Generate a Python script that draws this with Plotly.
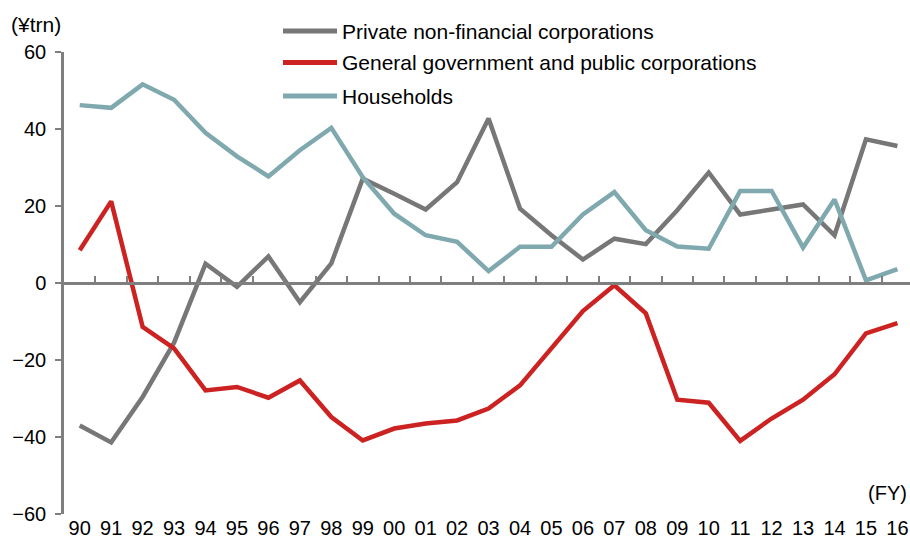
import plotly.graph_objects as go

years = ["90","91","92","93","94","95","96","97","98","99","00","01","02","03",
         "04","05","06","07","08","09","10","11","12","13","14","15","16"]

private_corp = [-37.0, -41.4, -29.6, -15.5, 5.0, -1.0, 6.9, -5.0, 5.1, 27.1, 23.2, 19.1, 26.2, 42.7,
                19.3, 12.4, 6.1, 11.5, 10.1, 18.9, 28.7, 17.8, 19.1, 20.4, 12.4, 37.3, 35.6]
government = [8.5, 21.2, -11.4, -17.0, -27.9, -27.0, -29.8, -25.3, -34.8, -40.9, -37.8, -36.5, -35.7, -32.6,
              -26.6, -16.8, -7.3, -0.6, -7.9, -30.3, -31.1, -41.0, -35.2, -30.3, -23.7, -13.1, -10.4]
households = [46.2, 45.5, 51.6, 47.6, 39.0, 32.9, 27.7, 34.5, 40.3, 27.5, 18.0, 12.4, 10.7, 3.1,
              9.4, 9.4, 17.8, 23.6, 13.7, 9.5, 8.9, 23.9, 23.9, 9.2, 21.7, 0.7, 3.6]

series_names = ["Private non-financial corporations",
                "General government and public corporations",
                "Households"]
series_values = [private_corp, government, households]
series_colors = ["#777777", "#CC2222", "#7FA9AE"]

y_ticks = [-60, -40, -20, 0, 20, 40, 60]
unit_label = "(¥trn)"
fy_label = "(FY)"

FONT = "Liberation Sans, Arial, sans-serif"
AXIS_GRAY = "#7F7F7F"

idx = list(range(len(years)))
fig = go.Figure()
for name, vals, col in zip(series_names, series_values, series_colors):
    fig.add_trace(go.Scatter(x=idx, y=vals, mode="lines", name=name,
                             line=dict(color=col, width=4.5), showlegend=False,
                             hoverinfo="skip"))
# empty trace to host the zero-line axis
fig.add_trace(go.Scatter(x=[], y=[], xaxis="x2", yaxis="y", showlegend=False))

xr = [-0.5, 26.4]
fig.update_layout(
    width=910, height=540,
    margin=dict(l=64, r=0, t=52, b=26),
    paper_bgcolor="white", plot_bgcolor="white",
    font=dict(family=FONT, size=20, color="#000000"),
    xaxis=dict(range=xr, tickmode="array", tickvals=idx, ticktext=years,
               showline=False, showgrid=False, zeroline=False, ticks="",
               tickfont=dict(size=20), ticklabelstandoff=0),
    xaxis2=dict(range=xr, overlaying="x", anchor="free", position=0.5, side="bottom",
                tickmode="array", tickvals=[i + 0.5 for i in idx[:-1]],
                ticks="inside", ticklen=6, tickwidth=2, tickcolor=AXIS_GRAY,
                showticklabels=False, showline=True, linecolor=AXIS_GRAY, linewidth=2.5,
                showgrid=False, zeroline=False),
    yaxis=dict(range=[-60, 60], tickmode="array", tickvals=y_ticks,
               showline=True, linecolor=AXIS_GRAY, linewidth=2.5,
               ticks="outside", ticklen=6, tickwidth=2, tickcolor=AXIS_GRAY,
               showgrid=False, zeroline=False, tickfont=dict(size=20),
               ticklabelstandoff=5),
    showlegend=False,
)

# manual legend (long line samples like the original)
PW, PH = 846.0, 462.0
def px_x(p):
    return (p - 64) / PW
def px_y(p):
    return (514 - p) / PH
legend_rows = [31, 62.5, 96]
for name, col, ry in zip(series_names, series_colors, legend_rows):
    fig.add_shape(type="line", xref="paper", yref="paper",
                  x0=px_x(283), x1=px_x(337), y0=px_y(ry), y1=px_y(ry),
                  line=dict(color=col, width=5))
    fig.add_annotation(xref="paper", yref="paper", x=px_x(340), y=px_y(ry),
                       text=name, showarrow=False, xanchor="left", yanchor="middle",
                       font=dict(size=21, family=FONT, color="#000000"))

fig.add_annotation(xref="paper", yref="paper", x=px_x(35.5), y=px_y(24), text=unit_label,
                   showarrow=False, xanchor="center", yanchor="middle",
                   font=dict(size=21, family=FONT))
fig.add_annotation(xref="paper", yref="paper", x=px_x(909), y=px_y(493), text=fy_label,
                   showarrow=False, xanchor="right", yanchor="middle",
                   font=dict(size=20, family=FONT))

fig.write_html("out.html")
